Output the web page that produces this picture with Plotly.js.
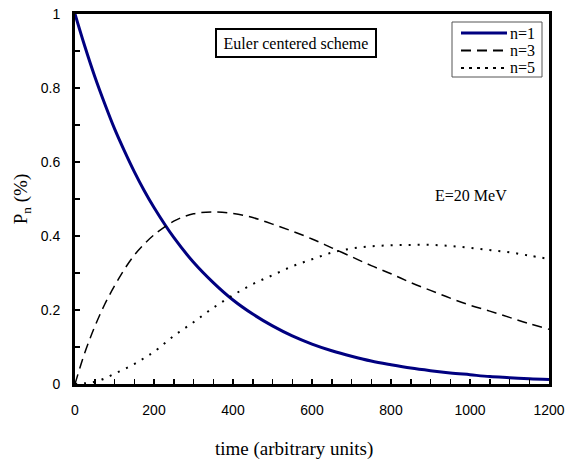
<!DOCTYPE html>
<html>
<head>
<meta charset="utf-8">
<script src="https://cdn.plot.ly/plotly-3.0.1.min.js"></script>
<style>html,body{margin:0;padding:0;background:#fff;}#chart{width:568px;height:463px;}</style>
</head>
<body>
<div id="chart"></div>
<script>
// time values (arbitrary units)
var t1 = [0,25,50,75,100,125,150,175,200,250,300,350,400,450,500,550,600,650,700,750,800,850,900,950,1000,1050,1100,1150,1200];
// n=1
var p1 = [1.0,0.912,0.831,0.758,0.690,0.630,0.574,0.523,0.477,0.396,0.329,0.274,0.227,0.189,0.157,0.130,0.108,0.090,0.075,0.062,0.052,0.043,0.036,0.030,0.025,0.020,0.017,0.014,0.012];
// n=3
var p3 = [0,0.085,0.155,0.215,0.265,0.310,0.348,0.378,0.403,0.440,0.460,0.465,0.461,0.450,0.432,0.413,0.392,0.368,0.344,0.320,0.298,0.274,0.253,0.232,0.213,0.197,0.180,0.163,0.148];
// n=5
var p5 = [0,0.002,0.006,0.015,0.028,0.040,0.054,0.070,0.087,0.130,0.167,0.206,0.240,0.270,0.294,0.318,0.337,0.355,0.366,0.372,0.375,0.376,0.376,0.373,0.368,0.362,0.356,0.347,0.338];

var names = ['n=1','n=3','n=5'];
var xTicks = [0,200,400,600,800,1000,1200];
var yTicks = [0,0.2,0.4,0.6,0.8,1];
var yTickText = ['0','0.2','0.4','0.6','0.8','1'];

var serif = 'Liberation Serif';
var sans = 'Liberation Sans';

var styles = [
  {color:'#000080', width:3, dash:'solid'},
  {color:'#000000', width:1.5, dash:'10px,6px'},
  {color:'#000000', width:2, dash:'2px,7px'}
];
var series = [p1, p3, p5];

var traces = series.map(function(p, i){
  return {x:t1, y:p, name:names[i], mode:'lines', showlegend:false,
          line:{color:styles[i].color, width:styles[i].width, dash:styles[i].dash, shape:'spline'}};
});

// plot area geometry in pixels (for the legend box drawn as shapes)
var L = 75, R = 19, T = 14, B = 79, W = 568, H = 463;
var pw = W - L - R, ph = H - T - B;
function px(x){ return (x - L) / pw; }
function py(y){ return (H - B - y) / ph; }

var shapes = [
  {type:'rect', xref:'paper', yref:'paper', x0:px(452), x1:px(542), y0:py(77), y1:py(22),
   line:{color:'#555', width:1}, fillcolor:'#fff', layer:'above'}
];
var annotations = [];
var legY = [33, 50.5, 68];
names.forEach(function(n, i){
  shapes.push({type:'line', xref:'paper', yref:'paper', x0:px(461), x1:px(507), y0:py(legY[i]), y1:py(legY[i]),
    line:{color:styles[i].color, width:styles[i].width === 1.5 ? 2 : styles[i].width, dash:styles[i].dash === '2px,7px' ? '3px,5px' : styles[i].dash}, layer:'above'});
  annotations.push({xref:'paper', yref:'paper', x:px(508), y:py(legY[i]), xanchor:'left', yanchor:'middle',
    text:n, showarrow:false, font:{family:serif, size:16, color:'#000'}});
});

annotations.push(
  {xref:'paper', yref:'paper', x:px(295.5), y:py(42.5), xanchor:'center', yanchor:'middle',
   text:'Euler centered scheme', showarrow:false,
   font:{family:serif, size:16, color:'#000'}, bordercolor:'#000', borderwidth:2, borderpad:2,
   width:154, height:22, bgcolor:'#fff'},
  {xref:'paper', yref:'paper', x:px(471), y:py(195), xanchor:'center', yanchor:'middle',
   text:'E=20 MeV', showarrow:false, font:{family:serif, size:16, color:'#000'}},
  {xref:'paper', yref:'paper', x:px(294), y:py(449), xanchor:'center', yanchor:'middle',
   text:'time (arbitrary units)', showarrow:false, font:{family:serif, size:19, color:'#000'}}
);

var layout = {
  width:W, height:H,
  margin:{l:L, r:R, t:T, b:B},
  paper_bgcolor:'#fff', plot_bgcolor:'#fff',
  font:{family:sans, color:'#000'},
  showlegend:false,
  xaxis:{range:[0,1200], tickvals:xTicks, ticktext:xTicks.map(String), ticks:'inside', ticklen:5, tickwidth:1.5, tickcolor:'#000',
         minor:{dtick:50, ticks:'inside', ticklen:5, tickwidth:1.5, tickcolor:'#000'},
         showline:true, linecolor:'#000', linewidth:3, mirror:true, showgrid:false, zeroline:false,
         ticklabelstandoff:11,
         tickfont:{family:sans, size:14, color:'#000'}},
  yaxis:{range:[0,1], tickvals:yTicks, ticktext:yTickText, ticks:'inside', ticklen:5, tickwidth:1.5, tickcolor:'#000',
         minor:{dtick:0.1, ticks:'inside', ticklen:5, tickwidth:1.5, tickcolor:'#000'},
         showline:true, linecolor:'#000', linewidth:3, mirror:true, showgrid:false, zeroline:false,
         ticklabelstandoff:9,
         tickfont:{family:sans, size:14, color:'#000'},
         title:{text:'P<sub>n</sub> (%)', font:{family:serif, size:19, color:'#000'}, standoff:9}},
  shapes:shapes,
  annotations:annotations
};

Plotly.newPlot('chart', traces, layout, {displayModeBar:false, staticPlot:true});
</script>
</body>
</html>
